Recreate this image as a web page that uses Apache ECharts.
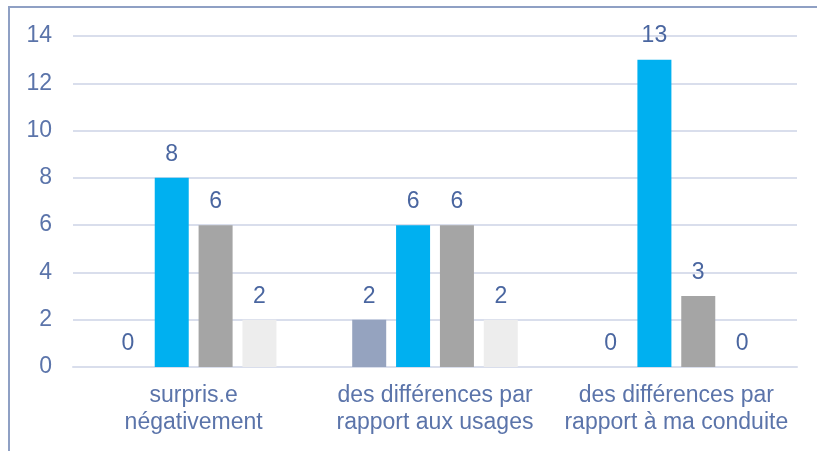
<!DOCTYPE html>
<html><head><meta charset="utf-8">
<script src="https://cdn.jsdelivr.net/npm/echarts@6/dist/echarts.min.js"></script>
<style>html,body{margin:0;padding:0;background:#fff}#c{width:817px;height:451px}</style>
</head><body><div id="c"></div>
<script>
const categories = ["surpris.e\nnégativement", "des différences par\nrapport aux usages", "des différences par\nrapport à ma conduite"];
const serieA = [0, 2, 0];
const serieB = [8, 6, 13];
const serieC = [6, 6, 3];
const serieD = [2, 2, 0];
const yTicks = {min: 0, max: 14, interval: 2};

const colors = ["#95A3BF", "#00B0F0", "#A5A5A5", "#EDEDED"];
const labelStyle = {show: true, position: 'top', distance: 12, color: '#4A66A0', fontSize: 23, fontFamily: 'Liberation Sans, Arial, sans-serif'};
function mk(name, data, i) {
  return {name, type: 'bar', data, barWidth: 34, barGap: '29%', itemStyle: {color: colors[i]}, label: labelStyle, silent: true};
}
const chart = echarts.init(document.getElementById('c'), null, {renderer: 'canvas'});
chart.setOption({
  animation: false,
  textStyle: {fontFamily: 'Liberation Sans, Arial, sans-serif'},
  grid: {left: 73, right: 20, top: 36, bottom: 84},
  graphic: [{type: 'rect', shape: {x: 9, y: 7, width: 900, height: 500}, style: {fill: 'none', stroke: '#8FA0C4', lineWidth: 2}, silent: true}],
  xAxis: {type: 'category', data: categories,
    axisLine: {show: true, lineStyle: {color: '#D9DEEC', width: 2}}, axisTick: {show: false},
    axisLabel: {color: '#5B74AA', fontSize: 23, lineHeight: 27, margin: 15, interval: 0}},
  yAxis: {type: 'value', min: yTicks.min, max: yTicks.max, interval: yTicks.interval,
    axisLine: {show: false}, axisTick: {show: false},
    splitLine: {lineStyle: {color: '#D9DEEC', width: 2}},
    axisLabel: {color: '#5B74AA', fontSize: 23, margin: 21}},
  series: [mk('A', serieA, 0), mk('B', serieB, 1), mk('C', serieC, 2), mk('D', serieD, 3)]
});
</script></body></html>
